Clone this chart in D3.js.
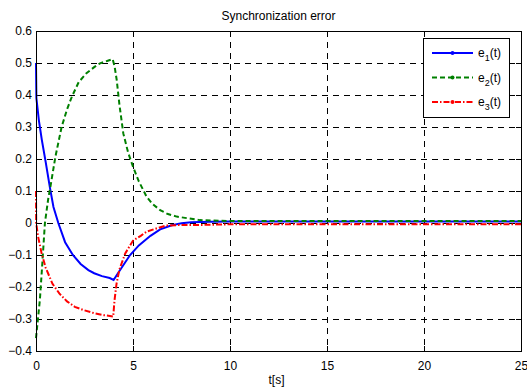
<!DOCTYPE html>
<html><head><meta charset="utf-8">
<script src="https://cdn.jsdelivr.net/npm/d3@7"></script>
<style>
html,body{margin:0;padding:0;background:#fff;}
svg{display:block;font-family:"Liberation Sans",Arial,Helvetica,sans-serif;}
</style></head>
<body>
<svg id="c" width="527" height="389"></svg>
<script>
const title = "Synchronization error";
const xLabel = "t[s]";
const xTicks = [0,5,10,15,20,25];
const yTicks = [-0.4,-0.3,-0.2,-0.1,0,0.1,0.2,0.3,0.4,0.5,0.6];
const seriesNames = ["1","2","3"];
const seriesColors = ["#0000ff","#008000","#ff0000"];

const e1 = [[0,0.5],[0.02,0.39],[0.15,0.32],[0.3,0.26],[0.5,0.19],[0.72,0.11],[0.9,0.05],[1.15,0.0],[1.5,-0.06],[1.9,-0.1],[2.3,-0.128],[2.7,-0.147],[3.0,-0.157],[3.4,-0.166],[3.8,-0.172],[4.0,-0.178],[4.3,-0.15],[4.85,-0.1],[5.3,-0.07],[5.9,-0.04],[6.4,-0.02],[7.0,-0.007],[7.5,-0.001],[8,0.002],[9,0.004],[10,0.005],[15,0.005],[20,0.005],[25,0.005]];
const e2 = [[0,-0.36],[0.1,-0.3],[0.2,-0.24],[0.3,-0.15],[0.46,0.0],[0.64,0.08],[0.72,0.105],[1.0,0.207],[1.32,0.30],[1.6,0.355],[1.85,0.395],[2.2,0.44],[2.6,0.468],[3.0,0.487],[3.3,0.499],[3.7,0.507],[3.95,0.512],[4.05,0.49],[4.16,0.447],[4.3,0.37],[4.5,0.28],[4.75,0.22],[5.0,0.176],[5.3,0.13],[5.53,0.103],[5.7,0.082],[6.0,0.06],[6.4,0.04],[6.8,0.028],[7.25,0.02],[8.45,0.009],[10,0.006],[15,0.006],[20,0.006],[25,0.006]];
const e3 = [[0,0.1],[0.01,0.0],[0.1,-0.04],[0.29,-0.095],[0.5,-0.14],[0.85,-0.19],[1.2,-0.22],[1.6,-0.245],[2.0,-0.262],[2.45,-0.272],[3.0,-0.282],[3.5,-0.288],[3.98,-0.292],[4.05,-0.24],[4.15,-0.19],[4.3,-0.145],[4.6,-0.095],[5.0,-0.055],[5.4,-0.04],[5.7,-0.027],[6.2,-0.017],[6.7,-0.008],[7.5,-0.006],[8.5,-0.006],[10,-0.004],[15,-0.004],[20,-0.004],[25,-0.004]];
const seriesData = [e1,e2,e3];
const dashes = [null,"5,3","6,2,1.5,2"];

const L=36,R=521,T=31,B=351;
const svg=d3.select("#c");
const x=d3.scaleLinear().domain([0,25]).range([L,R]);
const y=d3.scaleLinear().domain([-0.4,0.6]).range([B,T]);
const fmt=d=>d===0?"0":d3.format(".1f")(d);

// grid
const g=svg.append("g");
g.selectAll(".gx").data(xTicks.slice(1,-1)).join("line")
 .attr("x1",d=>Math.round(x(d))+0.5).attr("x2",d=>Math.round(x(d))+0.5)
 .attr("y1",T).attr("y2",B).attr("stroke","#000").attr("stroke-width",1).attr("stroke-dasharray","6,5");
g.selectAll(".gy").data(yTicks.slice(1,-1)).join("line")
 .attr("y1",d=>Math.round(y(d))+0.5).attr("y2",d=>Math.round(y(d))+0.5)
 .attr("x1",L).attr("x2",R).attr("stroke","#000").attr("stroke-width",1).attr("stroke-dasharray","6,5");

// axes
const ax=d3.axisBottom(x).tickValues(xTicks).tickSize(0).tickPadding(10).tickFormat(d3.format("d"));
const ay=d3.axisLeft(y).tickValues(yTicks).tickSize(0).tickPadding(4).tickFormat(fmt);
const gx=svg.append("g").attr("transform",`translate(0,${B})`).call(ax);
const gy=svg.append("g").attr("transform",`translate(${L},0)`).call(ay);
[gx,gy].forEach(a=>{a.select(".domain").remove();a.selectAll("text").attr("font-size",12).attr("fill","#000").attr("font-family","Liberation Sans, Arial, sans-serif");});
gx.selectAll("text").attr("dy","0.71em");

// inward ticks
const tk=svg.append("g").attr("stroke","#000");
xTicks.forEach(t=>{const xx=Math.round(x(t))+0.5;
 tk.append("line").attr("x1",xx).attr("x2",xx).attr("y1",B).attr("y2",B-5);
 tk.append("line").attr("x1",xx).attr("x2",xx).attr("y1",T).attr("y2",T+5);});
yTicks.forEach(t=>{const yy=Math.round(y(t))+0.5;
 tk.append("line").attr("y1",yy).attr("y2",yy).attr("x1",L).attr("x2",L+5);
 tk.append("line").attr("y1",yy).attr("y2",yy).attr("x1",R).attr("x2",R-5);});

// curves
const line=d3.line().x(d=>x(d[0])).y(d=>y(d[1]));
const cg=svg.append("g");
seriesData.forEach((s,i)=>{
 cg.append("path").datum(s).attr("d",line).attr("fill","none")
  .attr("stroke",seriesColors[i]).attr("stroke-width",2)
  .attr("stroke-dasharray",dashes[i]);
});

// box
svg.append("rect").attr("x",L+0.5).attr("y",T+0.5).attr("width",R-L).attr("height",B-T)
 .attr("fill","none").attr("stroke","#000").attr("stroke-width",1);

// title & label
svg.append("text").attr("x",(L+R)/2).attr("y",20).attr("text-anchor","middle").attr("font-size",12).text(title);
svg.append("text").attr("x",(L+R)/2-2).attr("y",384).attr("text-anchor","middle").attr("font-size",12).text(xLabel);

// legend
const lg=svg.append("g");
lg.append("rect").attr("x",423.5).attr("y",38.5).attr("width",86).attr("height",79).attr("fill","#fff").attr("stroke","#000");
seriesNames.forEach((n,i)=>{
 const yy=53+i*24.5;
 lg.append("line").attr("x1",432).attr("x2",473).attr("y1",yy).attr("y2",yy)
  .attr("stroke",seriesColors[i]).attr("stroke-width",2).attr("stroke-dasharray",dashes[i]);
 lg.append("circle").attr("cx",452.5).attr("cy",yy).attr("r",2).attr("fill",seriesColors[i]);
 const t=lg.append("text").attr("x",478).attr("y",yy+4).attr("font-size",12);
 t.append("tspan").text("e");
 t.append("tspan").attr("font-size",9).attr("dy",4).text(n);
 t.append("tspan").attr("dy",-4).text("(t)");
});
</script>
</body></html>
